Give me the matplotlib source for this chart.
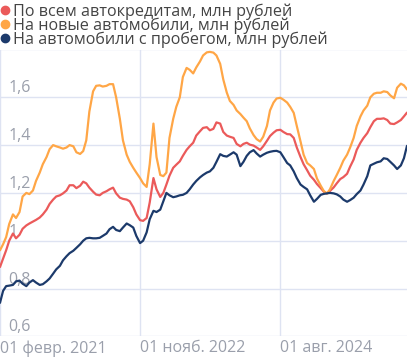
import matplotlib

matplotlib.use("Agg")
import matplotlib.pyplot as plt
import matplotlib.transforms as mtransforms
from matplotlib.lines import Line2D
import pandas as pd

# semimonthly observations, Feb 2021 .. Mar 2026
DATES = pd.date_range("2021-02-01", "2026-03-01", freq="SMS")

ALL_LOANS = [
    0.89, 0.925, 0.96, 1.0, 1.03, 1.01, 1.025, 1.05, 1.064, 1.072,
    1.08, 1.087, 1.097, 1.11, 1.13, 1.154, 1.172, 1.185, 1.19, 1.198,
    1.21, 1.232, 1.232, 1.22, 1.23, 1.247, 1.24, 1.222, 1.205, 1.193,
    1.19, 1.2, 1.207, 1.215, 1.222, 1.198, 1.18, 1.175, 1.172, 1.165,
    1.14, 1.11, 1.086, 1.083, 1.095, 1.16, 1.262, 1.215, 1.183, 1.2,
    1.235, 1.272, 1.305, 1.318, 1.332, 1.355, 1.38, 1.395, 1.41, 1.44,
    1.458, 1.472, 1.475, 1.462, 1.468, 1.495, 1.49, 1.455, 1.44, 1.435,
    1.43, 1.405, 1.395, 1.405, 1.41, 1.402, 1.398, 1.39, 1.38, 1.395,
    1.418, 1.438, 1.452, 1.462, 1.464, 1.455, 1.446, 1.445, 1.43, 1.39,
    1.35, 1.32, 1.295, 1.272, 1.255, 1.237, 1.22, 1.205, 1.198, 1.208,
    1.223, 1.24, 1.258, 1.266, 1.28, 1.31, 1.34, 1.38, 1.41, 1.43,
    1.45, 1.475, 1.5, 1.51, 1.51, 1.512, 1.505, 1.49, 1.488, 1.495,
    1.505, 1.52, 1.536,
]

NEW_CARS = [
    0.96, 0.985, 1.015, 1.07, 1.11, 1.095, 1.12, 1.185, 1.2, 1.195,
    1.21, 1.25, 1.285, 1.32, 1.35, 1.383, 1.4, 1.395, 1.39, 1.385,
    1.39, 1.4, 1.395, 1.37, 1.363, 1.375, 1.42, 1.54, 1.625, 1.648,
    1.65, 1.645, 1.648, 1.655, 1.655, 1.6, 1.51, 1.42, 1.36, 1.33,
    1.305, 1.285, 1.262, 1.24, 1.225, 1.32, 1.49, 1.35, 1.275, 1.27,
    1.285, 1.43, 1.51, 1.56, 1.6, 1.685, 1.723, 1.715, 1.7, 1.725,
    1.75, 1.775, 1.788, 1.79, 1.787, 1.775, 1.74, 1.675, 1.62, 1.585,
    1.568, 1.545, 1.53, 1.515, 1.5, 1.47, 1.442, 1.425, 1.415, 1.435,
    1.48, 1.545, 1.578, 1.595, 1.598, 1.59, 1.578, 1.56, 1.535, 1.48,
    1.415, 1.36, 1.325, 1.315, 1.3, 1.26, 1.23, 1.208, 1.197, 1.215,
    1.25, 1.275, 1.305, 1.335, 1.36, 1.39, 1.43, 1.48, 1.52, 1.545,
    1.565, 1.6, 1.615, 1.619, 1.619, 1.625, 1.622, 1.608, 1.596, 1.64,
    1.657, 1.65, 1.633,
]

USED_CARS = [
    0.74, 0.79, 0.81, 0.812, 0.815, 0.83, 0.833, 0.82, 0.81, 0.825,
    0.835, 0.825, 0.815, 0.818, 0.83, 0.842, 0.862, 0.88, 0.895, 0.918,
    0.935, 0.948, 0.958, 0.97, 0.985, 1.0, 1.01, 1.012, 1.01, 1.01,
    1.012, 1.02, 1.03, 1.048, 1.058, 1.045, 1.04, 1.055, 1.072, 1.065,
    1.055, 1.02, 0.99, 1.0, 1.035, 1.09, 1.125, 1.12, 1.13, 1.165,
    1.2, 1.19, 1.182, 1.185, 1.19, 1.192, 1.2, 1.215, 1.235, 1.25,
    1.265, 1.275, 1.285, 1.29, 1.305, 1.33, 1.362, 1.355, 1.352, 1.36,
    1.37, 1.36, 1.312, 1.33, 1.355, 1.37, 1.379, 1.365, 1.352, 1.36,
    1.368, 1.372, 1.375, 1.376, 1.37, 1.35, 1.325, 1.315, 1.29, 1.262,
    1.235, 1.225, 1.215, 1.19, 1.163, 1.175, 1.192, 1.196, 1.198, 1.2,
    1.198, 1.194, 1.185, 1.172, 1.163, 1.17, 1.18, 1.195, 1.21, 1.235,
    1.27, 1.315, 1.322, 1.328, 1.332, 1.345, 1.342, 1.33, 1.315, 1.3,
    1.315, 1.345, 1.397,
]

SERIES_LABELS = [
    "По всем автокредитам, млн рублей",
    "На новые автомобили, млн рублей",
    "На автомобили с пробегом, млн рублей",
]
Y_TICKS = [0.6, 0.8, 1.0, 1.2, 1.4, 1.6, 1.8]
Y_TICK_LABELS = ["0,6", "0,8", "1", "1,2", "1,4", "1,6", ""]
X_TICKS = pd.to_datetime(["2021-02-01", "2022-11-01", "2024-08-01"])
X_TICK_LABELS = ["01 февр. 2021", "01 нояб. 2022", "01 авг. 2024"]

COLORS = ["#EB5A5A", "#FFA646", "#1C3A6B"]
GRID = "#DEE3F2"
TICK_GRAY = "#9A9FAB"

plt.rcParams["font.family"] = ["Open Sans", "DejaVu Sans"]

W, H = 407, 360
fig = plt.figure(figsize=(W / 100, H / 100), dpi=100)
ax = fig.add_axes([0, 0.0658, 1, 0.7967])

series = [ALL_LOANS, NEW_CARS, USED_CARS]
for values, color in zip(series, COLORS):
    ax.plot(DATES, values, color=color, linewidth=1.6, zorder=3, solid_capstyle="round")

ax.set_xlim(DATES[0], DATES[-1])
ax.set_ylim(0.6, 1.8)
for s in ax.spines.values():
    s.set_visible(False)

ax.set_yticks(Y_TICKS)
ax.set_yticklabels([])
ax.set_xticks(X_TICKS)
ax.set_xticklabels(X_TICK_LABELS, fontsize=11.5, color=TICK_GRAY)
for lbl in ax.get_xticklabels():
    lbl.set_horizontalalignment("left")
ax.tick_params(axis="both", length=0)
ax.tick_params(axis="x", pad=3)
ax.grid(True, color=GRID, linewidth=1.0, zorder=0)
ax.set_axisbelow(True)

# y labels sit inside the plot, under the lines
trans = mtransforms.blended_transform_factory(ax.transAxes, ax.transData)
for val, txt in zip(Y_TICKS, Y_TICK_LABELS):
    if txt:
        ax.text(0.02, val + 0.004, txt, transform=trans, ha="left", va="bottom",
                fontsize=11.5, color=TICK_GRAY, zorder=1)

# legend rows placed by hand (pixel rows from the top)
for i, (label, color) in enumerate(zip(SERIES_LABELS, COLORS)):
    yc = 1 - (9.5 + 14 * i) / H
    fig.add_artist(Line2D([4.5 / W], [yc], marker="o", linestyle="none", color=color,
                          markersize=6, transform=fig.transFigure))
    fig.text(13.5 / W, yc, label, ha="left", va="center_baseline", fontsize=11.6,
             color="#444444")

fig.savefig("out.png", dpi=100, facecolor="white")
plt.close(fig)
